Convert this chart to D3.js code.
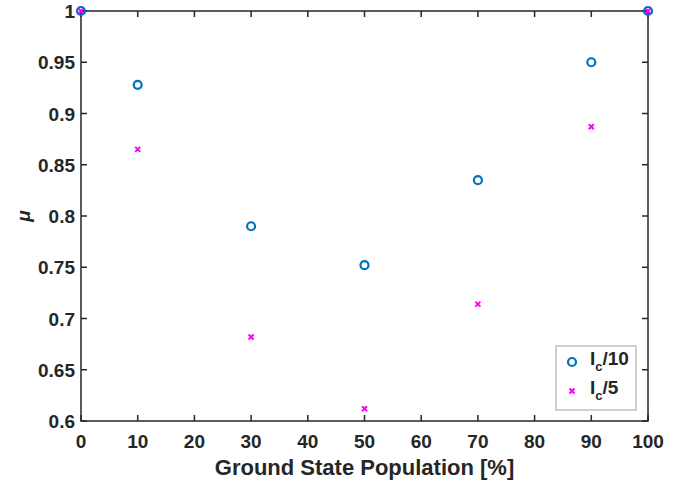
<!DOCTYPE html>
<html>
<head>
<meta charset="utf-8">
<script src="https://cdn.jsdelivr.net/npm/d3@7"></script>
<style>
  body { margin: 0; background: #fff; }
  text { font-family: "Liberation Sans", Arial, sans-serif; font-weight: bold; fill: #262626; }
</style>
</head>
<body>
<div id="chart"></div>
<script>
// data
var population = [0, 10, 30, 50, 70, 90, 100];
var ic10 = [1, 0.928, 0.790, 0.752, 0.835, 0.950, 1];
var ic5 = [1, 0.865, 0.682, 0.612, 0.714, 0.887, 1];
var xTicks = [0, 10, 20, 30, 40, 50, 60, 70, 80, 90, 100];
var yTicks = [0.6, 0.65, 0.7, 0.75, 0.8, 0.85, 0.9, 0.95, 1];

var W = 687, H = 487;
var plotL = 81, plotR = 648, plotT = 11, plotB = 421;

var svg = d3.select("#chart").append("svg")
    .attr("width", W)
    .attr("height", H);

var x = d3.scaleLinear().domain([0, 100]).range([plotL, plotR]);
var y = d3.scaleLinear().domain([0.6, 1]).range([plotB, plotT]);

// box
svg.append("rect")
    .attr("x", plotL).attr("y", plotT)
    .attr("width", plotR - plotL).attr("height", plotB - plotT)
    .attr("fill", "none").attr("stroke", "#262626").attr("stroke-width", 1.5);

// ticks, pointing inward on all four sides
var tk = 6;
xTicks.forEach(function(t){
  svg.append("line").attr("x1", x(t)).attr("x2", x(t)).attr("y1", plotB).attr("y2", plotB - tk)
     .attr("stroke", "#262626").attr("stroke-width", 1.5);
  svg.append("line").attr("x1", x(t)).attr("x2", x(t)).attr("y1", plotT).attr("y2", plotT + tk)
     .attr("stroke", "#262626").attr("stroke-width", 1.5);
  svg.append("text").attr("x", x(t)).attr("y", 448)
     .attr("text-anchor", "middle").attr("font-size", 19).text(t);
});
yTicks.forEach(function(t){
  svg.append("line").attr("x1", plotL).attr("x2", plotL + tk).attr("y1", y(t)).attr("y2", y(t))
     .attr("stroke", "#262626").attr("stroke-width", 1.5);
  svg.append("line").attr("x1", plotR).attr("x2", plotR - tk).attr("y1", y(t)).attr("y2", y(t))
     .attr("stroke", "#262626").attr("stroke-width", 1.5);
  svg.append("text").attr("x", 75).attr("y", y(t) + 7)
     .attr("text-anchor", "end").attr("font-size", 19).text(d3.format("")(t));
});

// axis labels
svg.append("text").attr("x", (plotL + plotR) / 2).attr("y", 475)
   .attr("text-anchor", "middle").attr("font-size", 22).text("Ground State Population [%]");
svg.append("text").attr("transform", "translate(30," + y(0.8) + ") rotate(-90)")
   .attr("text-anchor", "middle").attr("font-size", 19)
   .attr("font-style", "italic").attr("font-weight", "normal")
   .attr("font-family", "DejaVu Sans").text("μ");

var blue = "#0072BD", magenta = "#FF00FF";

function cross(g, cx, cy, s) {
  g.append("path")
   .attr("d", "M" + (cx - s) + "," + (cy - s) + "L" + (cx + s) + "," + (cy + s) +
              "M" + (cx - s) + "," + (cy + s) + "L" + (cx + s) + "," + (cy - s))
   .attr("stroke", magenta).attr("stroke-width", 2);
}

// Ic/10 circles
for (var i = 0; i < population.length; i++) {
  svg.append("circle")
     .attr("cx", x(population[i])).attr("cy", y(ic10[i])).attr("r", 4)
     .attr("fill", "none").attr("stroke", blue).attr("stroke-width", 2.2);
}
// Ic/5 crosses
for (var i = 0; i < population.length; i++) {
  cross(svg, x(population[i]), y(ic5[i]), 2.5);
}

// legend
svg.append("rect").attr("x", 556).attr("y", 346).attr("width", 80).attr("height", 64)
   .attr("fill", "#fff").attr("stroke", "#a0a0a0").attr("stroke-width", 1);
svg.append("circle").attr("cx", 572).attr("cy", 362).attr("r", 4)
   .attr("fill", "none").attr("stroke", blue).attr("stroke-width", 2.2);
cross(svg, 572, 391, 2.5);

var l1 = svg.append("text").attr("x", 590).attr("y", 365).attr("font-size", 19);
l1.append("tspan").text("I");
l1.append("tspan").attr("font-size", 13).attr("dy", 6).text("c");
l1.append("tspan").attr("dy", -6).text("/10");
var l2 = svg.append("text").attr("x", 590).attr("y", 394).attr("font-size", 19);
l2.append("tspan").text("I");
l2.append("tspan").attr("font-size", 13).attr("dy", 6).text("c");
l2.append("tspan").attr("dy", -6).text("/5");
</script>
</body>
</html>
